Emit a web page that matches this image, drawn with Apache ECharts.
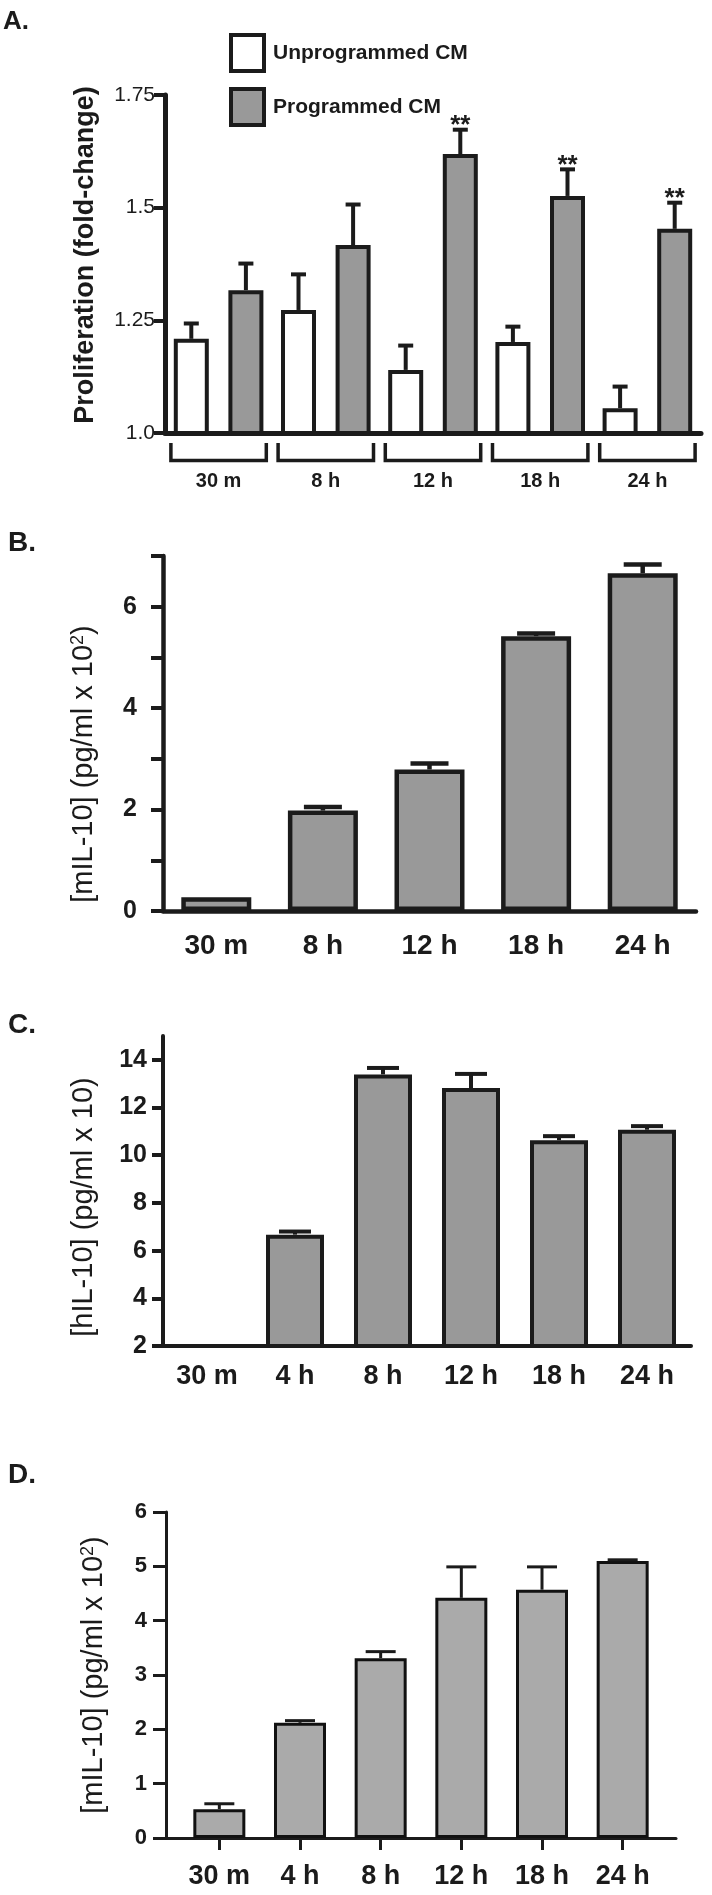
<!DOCTYPE html>
<html>
<head>
<meta charset="utf-8">
<script src="https://cdn.jsdelivr.net/npm/echarts@6/dist/echarts.min.js"></script>
<style>
  html, body { margin: 0; padding: 0; background: #fff; }
  #chart { width: 712px; height: 1895px; }
</style>
</head>
<body>
<div id="chart"></div>
<script>
const FONT = "'Liberation Sans', Arial, Helvetica, sans-serif";
const INK = '#1b1b1b';

// A. proliferation, two series per time point
const catsA = ['30 m', '8 h', '12 h', '18 h', '24 h'];
const unprogA = [1.209, 1.273, 1.14, 1.202, 1.055];
const unprogErrA = [0.034, 0.079, 0.054, 0.034, 0.048];
const progA = [1.317, 1.417, 1.619, 1.526, 1.453];
const progErrA = [0.059, 0.09, 0.054, 0.059, 0.058];
const sigA = ['', '', '**', '**', '**'];
const tickValsA = [1.0, 1.25, 1.5, 1.75];
const tickTextA = ['1.0', '1.25', '1.5', '1.75'];

// B. mIL-10
const catsB = ['30 m', '8 h', '12 h', '18 h', '24 h'];
const valsB = [0.27, 1.98, 2.79, 5.42, 6.66];
const errB = [0, 0.07, 0.12, 0.05, 0.17];
const tickValsB = [0, 1, 2, 3, 4, 5, 6, 7];
const labelValsB = [0, 2, 4, 6];

// C. hIL-10
const catsC = ['30 m', '4 h', '8 h', '12 h', '18 h', '24 h'];
const valsC = [null, 6.67, 13.39, 12.82, 10.63, 11.07];
const errC = [null, 0.13, 0.27, 0.59, 0.17, 0.15];
const tickValsC = [2, 4, 6, 8, 10, 12, 14];

// D. mIL-10
const catsD = ['30 m', '4 h', '8 h', '12 h', '18 h', '24 h'];
const valsD = [0.53, 2.12, 3.31, 4.42, 4.57, 5.1];
const errD = [0.1, 0.04, 0.12, 0.57, 0.42, 0.02];
const tickValsD = [0, 1, 2, 3, 4, 5, 6];

const chart = echarts.init(document.getElementById('chart'));

const txt = (size, weight) => ({ fontFamily: FONT, fontSize: size, fontWeight: weight || 'bold', color: INK });

// upward error bar (+ optional significance mark) drawn through the axes
function errSeries(idx, vals, errs, o) {
  return {
    type: 'custom',
    xAxisIndex: idx, yAxisIndex: idx,
    clip: false, silent: true, z: 3,
    data: vals.map((v, i) => [i, v, errs[i]]),
    renderItem: (params, api) => {
      const v = api.value(1);
      const e = api.value(2);
      if (isNaN(v)) return null;
      const base = api.coord([api.value(0), v]);
      const top = api.coord([api.value(0), v + (isNaN(e) ? 0 : e)]);
      const x = base[0] + (o.offset || 0);
      const ls = { stroke: INK, lineWidth: o.lw };
      const children = [];
      if (e > 0) {
        children.push({ type: 'line', shape: { x1: x, y1: base[1], x2: x, y2: top[1] }, style: ls });
        children.push({ type: 'line', shape: { x1: x - o.cap / 2, y1: top[1], x2: x + o.cap / 2, y2: top[1] }, style: ls });
      }
      const s = o.sig ? o.sig[params.dataIndex] : '';
      if (s) {
        children.push({
          type: 'text',
          style: { text: s, x: x, y: top[1] - 4, align: 'center', verticalAlign: 'middle',
            fontFamily: FONT, fontSize: 26, fontWeight: 'bold', fill: INK }
        });
      }
      return { type: 'group', children };
    }
  };
}

function catAxis(idx, cats, o) {
  return {
    type: 'category', gridIndex: idx, data: cats,
    axisLine: { show: true, lineStyle: { color: INK, width: o.lw } },
    axisTick: o.tick ? { show: true, alignWithLabel: true, length: o.tick, lineStyle: { color: INK, width: o.lw } } : { show: false },
    axisLabel: { interval: 0, margin: o.margin, ...txt(o.fs) },
    splitLine: { show: false }
  };
}

function valAxis(idx, min, max, ticks, labels, o) {
  return {
    type: 'value', gridIndex: idx, min, max,
    offset: o.offset || 0,
    axisLine: { show: true, lineStyle: { color: INK, width: o.lw } },
    axisTick: { show: true, length: o.tickLen, customValues: ticks, lineStyle: { color: INK, width: o.tickW } },
    axisLabel: {
      customValues: labels, margin: o.margin, ...txt(o.fs, o.fw),
      formatter: o.fmt || ((v) => String(v))
    },
    splitLine: { show: false },
    name: o.name, nameLocation: 'middle', nameGap: o.gap,
    nameTextStyle: o.nameStyle
  };
}

const supRich = {
  t: txt(29, 'normal'),
  s: { ...txt(18, 'normal'), verticalAlign: 'top' }
};

const barWA = 35;
const gapA = 0.56;
const offA = (barWA + barWA * gapA) / 2;

const option = {
  animation: false,
  backgroundColor: '#fff',
  title: [
    { text: 'A.', left: 3, top: 9, padding: 0, textStyle: txt(26) },
    { text: 'B.', left: 8, top: 529, padding: 0, textStyle: txt(28) },
    { text: 'C.', left: 8, top: 1011, padding: 0, textStyle: txt(28) },
    { text: 'D.', left: 8, top: 1461, padding: 0, textStyle: txt(28) }
  ],
  legend: {
    left: 229, top: 33, padding: 0, orient: 'vertical',
    itemWidth: 33, itemHeight: 36, itemGap: 14,
    icon: 'rect', selectedMode: false,
    textStyle: { ...txt(21), padding: [0, 0, 0, 4] },
    data: [
      { name: 'Unprogrammed CM', itemStyle: { color: '#fff', borderColor: INK, borderWidth: 4 } },
      { name: 'Programmed CM', itemStyle: { color: '#999', borderColor: INK, borderWidth: 4 } }
    ]
  },
  grid: [
    { left: 165, right: 11, top: 95, height: 338, outerBoundsMode: 'none' },
    { left: 163, right: 16, top: 556, height: 355, outerBoundsMode: 'none' },
    { left: 163, right: 21, top: 1036, height: 310, outerBoundsMode: 'none' },
    { left: 179, right: 49, top: 1512, height: 326, outerBoundsMode: 'none' },
    // only carries the longer baseline of panel D
    { left: 166, right: 36, top: 1512, height: 326, outerBoundsMode: 'none' }
  ],
  xAxis: [
    catAxis(0, catsA, { lw: 5, margin: 38, fs: 20 }),
    catAxis(1, catsB, { lw: 4.5, margin: 21, fs: 28 }),
    catAxis(2, catsC, { lw: 4, margin: 17, fs: 27 }),
    catAxis(3, catsD, { lw: 3, margin: 25, fs: 27, tick: 12 }),
    { type: 'value', gridIndex: 4, min: 0, max: 1,
      axisLine: { show: true, onZero: false, lineStyle: { color: INK, width: 3 } },
      axisTick: { show: false }, axisLabel: { show: false }, splitLine: { show: false } }
  ],
  yAxis: [
    valAxis(0, tickValsA[0], tickValsA[tickValsA.length - 1], tickValsA, tickValsA, {
      lw: 5, tickLen: 11, tickW: 4, margin: 10, fs: 21, fw: 'normal',
      fmt: (v) => tickTextA[tickValsA.indexOf(v)],
      name: 'Proliferation (fold-change)', gap: 66,
      nameStyle: { ...txt(27), padding: [0, 0, 0, 18] }
    }),
    valAxis(1, tickValsB[0], tickValsB[tickValsB.length - 1], tickValsB, labelValsB, {
      lw: 4.5, tickLen: 12, tickW: 4, margin: 26, fs: 25,
      name: '{t|[mIL-10] (pg/ml x 10}{s|2}{t|)}', gap: 65,
      nameStyle: { rich: supRich, padding: [0, 61, 0, 0] }
    }),
    valAxis(2, tickValsC[0], 15, tickValsC, tickValsC, {
      lw: 4, tickLen: 11, tickW: 4, margin: 16, fs: 25,
      name: '[hIL-10] (pg/ml x 10)', gap: 65,
      nameStyle: { ...txt(29, 'normal'), padding: [0, 32, 0, 0] }
    }),
    valAxis(3, tickValsD[0], tickValsD[tickValsD.length - 1], tickValsD, tickValsD, {
      lw: 3, tickLen: 13, tickW: 3, margin: 19, fs: 22, offset: 13,
      name: '{t|[mIL-10] (pg/ml x 10}{s|2}{t|)}', gap: 58,
      nameStyle: { rich: supRich }
    }),
    { type: 'value', gridIndex: 4, min: 0, max: 1, show: false }
  ],
  series: [
    {
      name: 'Unprogrammed CM', type: 'bar', xAxisIndex: 0, yAxisIndex: 0,
      barWidth: barWA, barGap: (gapA * 100) + '%',
      itemStyle: { color: '#fff', borderColor: INK, borderWidth: 4 },
      data: unprogA
    },
    {
      name: 'Programmed CM', type: 'bar', xAxisIndex: 0, yAxisIndex: 0,
      barWidth: barWA, barGap: (gapA * 100) + '%',
      itemStyle: { color: '#999', borderColor: INK, borderWidth: 4 },
      data: progA
    },
    errSeries(0, unprogA, unprogErrA, { offset: -offA, cap: 15, lw: 4 }),
    errSeries(0, progA, progErrA, { offset: offA, cap: 15, lw: 4, sig: sigA }),
    // brackets grouping each time point in A
    {
      type: 'custom', xAxisIndex: 0, yAxisIndex: 0, clip: false, silent: true,
      data: catsA.map((c, i) => [i, tickValsA[0]]),
      renderItem: (params, api) => {
        const p = api.coord([api.value(0), api.value(1)]);
        const hw = api.size([1, 0])[0] * 0.445;
        return {
          type: 'polyline',
          shape: { points: [[p[0] - hw, p[1] + 10], [p[0] - hw, p[1] + 27.5], [p[0] + hw, p[1] + 27.5], [p[0] + hw, p[1] + 10]] },
          style: { stroke: INK, lineWidth: 3.5, fill: null }
        };
      }
    },
    {
      type: 'bar', xAxisIndex: 1, yAxisIndex: 1, barWidth: 70,
      itemStyle: { color: '#999', borderColor: INK, borderWidth: 4.5 },
      data: valsB
    },
    errSeries(1, valsB, errB, { cap: 38, lw: 4.5 }),
    {
      type: 'bar', xAxisIndex: 2, yAxisIndex: 2, barWidth: 58,
      itemStyle: { color: '#999', borderColor: INK, borderWidth: 4 },
      data: valsC
    },
    errSeries(2, valsC, errC, { cap: 32, lw: 4 }),
    {
      type: 'bar', xAxisIndex: 3, yAxisIndex: 3, barWidth: 52,
      itemStyle: { color: '#aaa', borderColor: '#111', borderWidth: 3 },
      data: valsD
    },
    errSeries(3, valsD, errD, { cap: 30, lw: 3 })
  ]
};

chart.setOption(option);
</script>
</body>
</html>
